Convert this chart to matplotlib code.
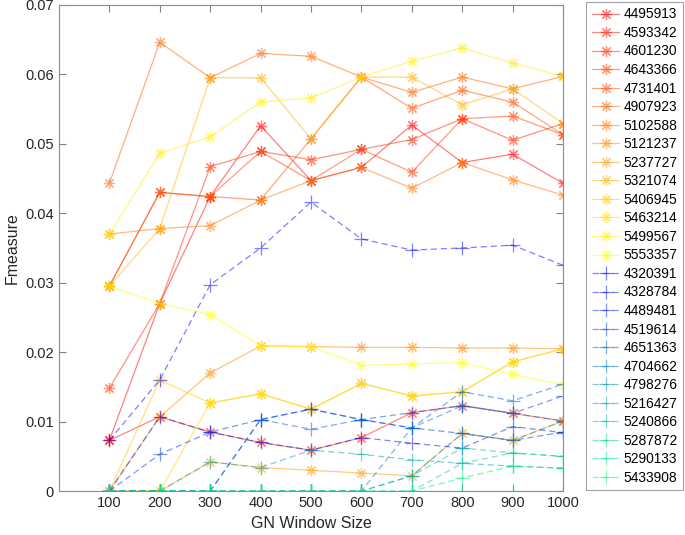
import matplotlib
matplotlib.use("Agg")
import matplotlib.pyplot as plt

plt.rcParams['font.family'] = ['Liberation Sans', 'DejaVu Sans']

window = [100, 200, 300, 400, 500, 600, 700, 800, 900, 1000]

# solid series (asterisk markers)
solid_names = ['4495913', '4593342', '4601230', '4643366', '4731401', '4907923',
               '5102588', '5121237', '5237727', '5321074', '5406945', '5463214',
               '5499567', '5553357']
solid_vals = [
    [0.0073, 0.027, 0.0424, 0.0526, 0.0447, 0.0466, 0.0527, 0.0473, 0.0485, 0.0443],
    [0.0073, 0.0107, 0.0085, 0.007, 0.0059, 0.0077, 0.0113, 0.0123, 0.0112, 0.0101],
    [0.0148, 0.027, 0.0467, 0.0489, 0.0477, 0.0492, 0.0506, 0.0536, 0.0505, 0.0529],
    [0.0295, 0.043, 0.0424, 0.0489, 0.0447, 0.0492, 0.0459, 0.0536, 0.054, 0.0513],
    [0.0295, 0.043, 0.0424, 0.0419, 0.0507, 0.0596, 0.0551, 0.0577, 0.056, 0.0513],
    [0.0443, 0.0646, 0.0595, 0.063, 0.0626, 0.0596, 0.0574, 0.0596, 0.0579, 0.0597],
    [0.037, 0.0378, 0.0382, 0.0419, 0.0447, 0.0466, 0.0436, 0.0473, 0.0448, 0.0426],
    [0, 0.0107, 0.017, 0.0209, 0.0208, 0.0207, 0.0207, 0.0206, 0.0206, 0.0205],
    [0, 0, 0.0042, 0.0034, 0.003, 0.0026, 0.0022, 0.0083, 0.0073, 0.0101],
    [0.0295, 0.0378, 0.0595, 0.0595, 0.0507, 0.0596, 0.0596, 0.0556, 0.0579, 0.0529],
    [0, 0.016, 0.0127, 0.014, 0.0118, 0.0155, 0.0137, 0.0143, 0.0186, 0.0205],
    [0, 0, 0.0127, 0.014, 0.0118, 0.0155, 0.0137, 0.0143, 0.0186, 0.0205],
    [0.037, 0.0486, 0.051, 0.056, 0.0566, 0.0596, 0.0619, 0.0638, 0.0616, 0.0597],
    [0.0295, 0.027, 0.0254, 0.0209, 0.0208, 0.0181, 0.0183, 0.0185, 0.0168, 0.0153],
]

# dashed series (plus markers)
dashed_names = ['4320391', '4328784', '4489481', '4519614', '4651363', '4704662',
                '4798276', '5216427', '5240866', '5287872', '5290133', '5433908']
dashed_vals = [
    [0.0073, 0.016, 0.0297, 0.035, 0.0416, 0.0363, 0.0347, 0.035, 0.0354, 0.0325],
    [0, 0.0107, 0.0085, 0.007, 0.0059, 0.0077, 0.0069, 0.0062, 0.0093, 0.0084],
    [0, 0.0053, 0.0085, 0.0103, 0.0118, 0.0103, 0.0091, 0.0083, 0.0073, 0.0085],
    [0, 0, 0, 0.0103, 0.0118, 0.0103, 0.0113, 0.0123, 0.0112, 0.0137],
    [0, 0, 0, 0.0103, 0.0089, 0.0103, 0.0091, 0.0143, 0.013, 0.0154],
    [0, 0, 0, 0, 0, 0, 0.0091, 0.0123, 0.0112, 0.0101],
    [0, 0, 0, 0, 0, 0, 0.0022, 0.0083, 0.0073, 0.0101],
    [0, 0, 0.0042, 0.0034, 0.0059, 0.0053, 0.0045, 0.004, 0.0036, 0.0033],
    [0, 0, 0, 0, 0, 0, 0.0022, 0.0062, 0.0055, 0.005],
    [0, 0, 0, 0, 0, 0, 0, 0.004, 0.0055, 0.005],
    [0, 0, 0, 0, 0, 0, 0, 0.0019, 0.0036, 0.0033],
    [0, 0, 0, 0, 0, 0, 0, 0, 0, 0],
]

fig = plt.figure(figsize=(6.85, 5.35), dpi=100)
ax = fig.add_axes([0.086, 0.082, 0.736, 0.909])

autumn = plt.get_cmap('autumn')
winter = plt.get_cmap('winter')

for i, (name, vals) in enumerate(zip(solid_names, solid_vals)):
    c = autumn(i / (len(solid_names) - 1))
    ax.plot(window, vals, '-', color=c, alpha=0.5, lw=0.9,
            marker=(8, 2, 0), markersize=8, markeredgewidth=0.9, label=name)

for i, (name, vals) in enumerate(zip(dashed_names, dashed_vals)):
    c = winter(i / (len(dashed_names) - 1))
    ax.plot(window, vals, color=c, alpha=0.5, lw=0.9, dashes=(5, 3),
            marker='+', markersize=10, markeredgewidth=0.9, label=name)

ax.set_xlim(0, 1000)
ax.set_ylim(0, 0.07)
ax.set_xticks(window)
ax.set_yticks([0, 0.01, 0.02, 0.03, 0.04, 0.05, 0.06, 0.07])
ax.set_yticklabels(['0', '0.01', '0.02', '0.03', '0.04', '0.05', '0.06', '0.07'])
ax.tick_params(direction='in', top=True, right=True, length=5, color='#808080',
               labelsize=10.5, labelcolor='#262626')
for s in ax.spines.values():
    s.set_color('#8c8c8c')
ax.set_xlabel('GN Window Size', fontsize=11.5, color='#262626')
ax.set_ylabel('Fmeasure', fontsize=11.5, color='#262626')

leg = ax.legend(loc='upper left', bbox_to_anchor=(1.046, 1.006), fontsize=9.9,
                frameon=True, fancybox=False, edgecolor='#8c8c8c',
                handlelength=2.0, labelspacing=0.33, borderpad=0.4,
                handletextpad=0.3, borderaxespad=0)
leg.get_frame().set_linewidth(0.8)

fig.savefig('out.png', dpi=100)
